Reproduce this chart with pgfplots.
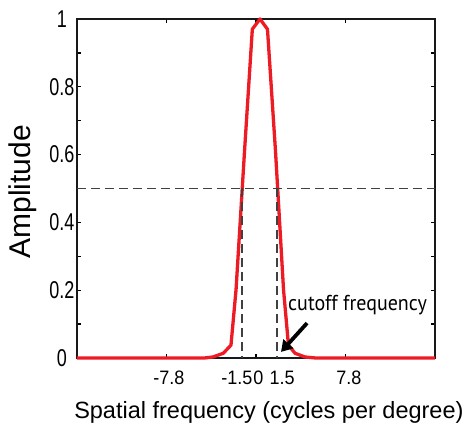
\documentclass[border=0pt]{standalone}
\usepackage{fontspec}
\setmainfont{Liberation Sans}
\newfontfamily\annfont{PT Sans}
\usepackage{pgfplots}
\pgfplotsset{compat=1.18}
\usetikzlibrary{arrows.meta}
\definecolor{curvered}{HTML}{ED1C24}
\definecolor{dashgray}{HTML}{404040}
\begin{document}
\begin{tikzpicture}
\begin{axis}[
  scale only axis, width=358pt, height=339pt,
  xmin=-15.6, xmax=15.6, ymin=0, ymax=1,
  clip=false,
  axis line style={line width=1.8pt, black!90},
  xtick={-7.8,0,7.8},
  xticklabels={},
  extra x ticks={-7.6,-1.66,0.2,2.27,8.1},
  extra x tick labels={-7.8,-1.5,0,1.5,7.8},
  extra x tick style={major tick length=0pt},
  ytick={0,0.2,0.4,0.6,0.8,1},
  yticklabels={0,0.2,0.4,0.6,0.8,1},
  minor ytick={0.1,0.3,0.5,0.7,0.9},
  tick align=inside,
  major tick length=4pt, minor tick length=4pt,
  every tick/.style={line width=1.3pt, black},
  xticklabel style={font=\fontsize{18}{18}\selectfont, yscale=1.08, anchor=base, yshift=-24.5pt, inner sep=0pt},
  yticklabel style={font=\fontsize{18}{18}\selectfont, yscale=1.35, anchor=center, inner sep=0pt, xshift=-15pt},
  xlabel={Spatial frequency (cycles per degree)},
  xlabel style={font=\fontsize{23.5}{24}\selectfont, at={(axis description cs:0.536,-0.177)}, anchor=base},
  ylabel={Amplitude},
  ylabel style={font=\fontsize{30}{30}\selectfont, at={(axis description cs:-0.151,0.49)}, anchor=center},
]
\addplot[curvered, line width=3.3pt, line join=round] coordinates {
  (-15.6,0) (-4.5,0) (-3.75,0.003) (-2.85,0.014) (-2.18,0.038) (-1.74,0.201)
  (-1.00,0.61) (-0.32,0.97) (0.35,1.0) (1.00,0.97) (1.70,0.61)
  (2.40,0.201) (2.83,0.038) (3.40,0.014) (4.27,0.003) (5.2,0) (15.6,0)
};
\addplot[dashgray, line width=1.8pt, dash pattern=on 9pt off 5pt] coordinates {(-15.6,0.5) (15.6,0.5)};
\addplot[dashgray, line width=1.8pt, dash pattern=on 9pt off 5pt] coordinates {(-1.25,0.5) (-1.25,0)};
\addplot[dashgray, line width=1.8pt, dash pattern=on 9pt off 5pt] coordinates {(1.8,0.5) (1.8,0)};
\draw[line width=3.8pt, -{Triangle[length=11pt,width=13pt]}] (axis cs:4.45,0.103) -- (axis cs:2.18,0.018);
\node[anchor=base west, font=\annfont\fontsize{20}{20}\selectfont, yscale=1.08, inner sep=0pt] at (axis cs:2.79,0.139) {cutoff frequency};
\coordinate (sw) at (rel axis cs:0,0);
\end{axis}
\pgfresetboundingbox
\path[use as bounding box] ([xshift=-77pt,yshift=-68pt]sw) rectangle ++(467pt,426pt);
\end{tikzpicture}
\end{document}
